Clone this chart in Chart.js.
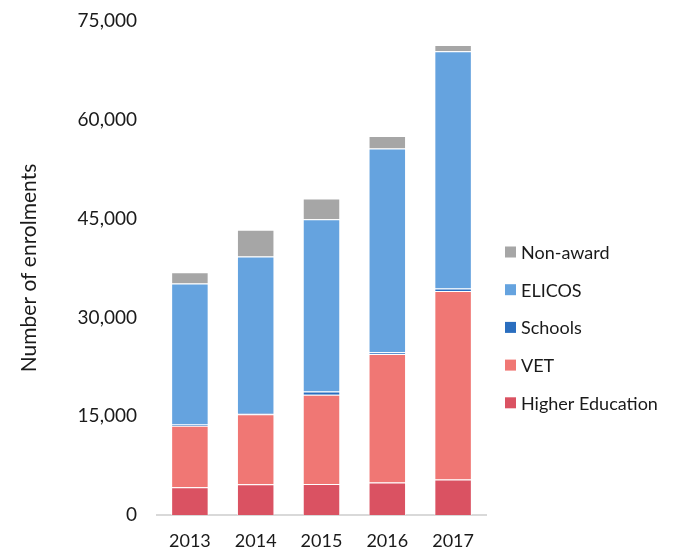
<!DOCTYPE html>
<html>
<head>
<meta charset="utf-8">
<script src="https://cdn.jsdelivr.net/npm/chart.js@4"></script>
<style>
  html, body { margin: 0; padding: 0; background: #fff; }
  #wrap { width: 673px; height: 549px; }
</style>
</head>
<body>
<div id="wrap"><canvas id="enrolChart"></canvas></div>
<script>
const years = ['2013', '2014', '2015', '2016', '2017'];
const higherEd = [4200, 4650, 4700, 4950, 5400];
const vet = [9350, 10650, 13550, 19500, 28600];
const schools = [200, 200, 500, 250, 400];
const elicos = [21400, 23750, 26150, 30950, 36000];
const nonAward = [1700, 4050, 3150, 1900, 950];
const yTicks = [0, 15000, 30000, 45000, 60000, 75000];

const FONT = 'Lato, "Open Sans", sans-serif';

// legend drawn on the right, top item first (reverse of stack order)
const sideLegend = {
    id: 'sideLegend',
    afterDraw(chart) {
        const ctx = chart.ctx;
        const sets = chart.data.datasets.slice().reverse();
        ctx.save();
        ctx.font = '18px ' + FONT;
        ctx.textBaseline = 'middle';
        sets.forEach((ds, i) => {
            const y = 252 + i * 37.7;
            ctx.fillStyle = ds.backgroundColor;
            ctx.fillRect(505, y - 5.5, 11, 11);
            ctx.fillStyle = '#1a1a1a';
            ctx.fillText(ds.label, 521, y + 1);
        });
        ctx.restore();
    }
};

try {
    new Chart(document.getElementById('enrolChart'), {
        type: 'bar',
        data: {
            labels: years,
            datasets: [
                { label: 'Higher Education', data: higherEd, backgroundColor: '#DA5262' },
                { label: 'VET', data: vet, backgroundColor: '#F07774' },
                { label: 'Schools', data: schools, backgroundColor: '#2A6EBF' },
                { label: 'ELICOS', data: elicos, backgroundColor: '#65A3DF' },
                { label: 'Non-award', data: nonAward, backgroundColor: '#A6A6A6' }
            ]
        },
        options: {
            responsive: true,
            maintainAspectRatio: false,
            animation: false,
            datasets: {
                bar: {
                    categoryPercentage: 1,
                    barPercentage: 0.57,
                    borderWidth: 1,
                    borderColor: 'rgba(255,255,255,0.7)'
                }
            },
            layout: { padding: { left: 17, right: 187, top: 0, bottom: 0 } },
            plugins: { legend: { display: false }, tooltip: { enabled: false } },
            scales: {
                x: {
                    stacked: true,
                    afterFit: (axis) => { axis.height = 34; },
                    grid: { display: false, drawTicks: false },
                    border: { display: true, color: '#d9d9d9', width: 2 },
                    ticks: { color: '#1a1a1a', padding: 15, font: { family: FONT, size: 18 } }
                },
                y: {
                    stacked: true,
                    min: 0,
                    max: 75000,
                    afterBuildTicks: (axis) => { axis.ticks = yTicks.map(v => ({ value: v })); },
                    afterFit: (axis) => {
                        axis.width = 140;
                        axis.paddingTop = 21;
                        axis.paddingBottom = 0;
                    },
                    grid: { display: false, drawTicks: false },
                    border: { display: false },
                    ticks: {
                        color: '#1a1a1a',
                        padding: 20,
                        font: { family: FONT, size: 19 },
                        callback: (v) => v.toLocaleString('en-US')
                    },
                    title: {
                        display: true,
                        text: 'Number of enrolments',
                        color: '#1a1a1a',
                        font: { family: FONT, size: 21 },
                        padding: { top: 0, bottom: 0 }
                    }
                }
            }
        },
        plugins: [sideLegend]
    });
} catch (e) { console.error("Crash in enrolChart", e); }
</script>
</body>
</html>
